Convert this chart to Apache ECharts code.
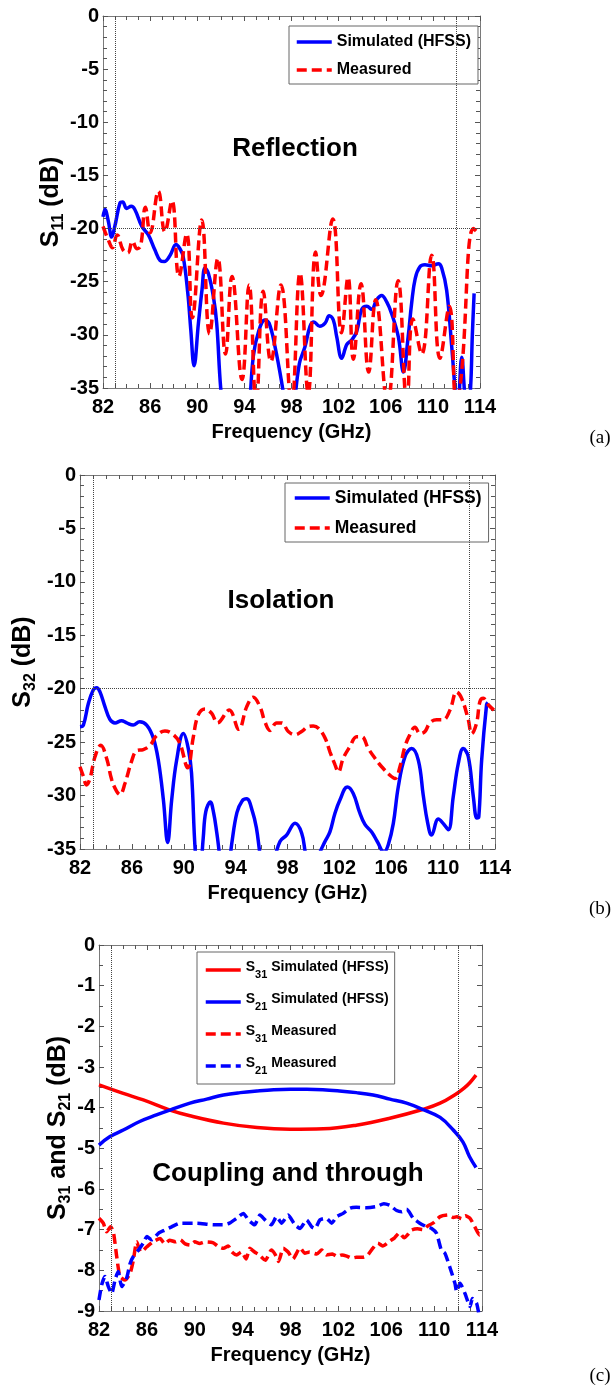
<!DOCTYPE html>
<html>
<head>
<meta charset="utf-8">
<script src="https://cdn.jsdelivr.net/npm/echarts@6/dist/echarts.min.js"></script>
<style>
  html, body { margin: 0; background: #fff; }
  #chart { width: 614px; height: 1389px; }
</style>
</head>
<body>
<div id="chart"></div>
<script>
// (a) reflection S11
const fS11Sim = [82.0,82.17,82.45,82.74,83.0,83.44,83.67,84.0,84.4,84.7,85.3,85.85,86.4,86.85,87.2,87.7,88.2,88.5,88.8,89.2,89.45,89.73,90.1,90.4,90.66,90.94,91.37,91.65,91.99,92.4,93.5,94.3,94.76,95.2,95.75,96.1,96.6,97.17,97.5,97.9,98.2,98.67,99.15,99.57,99.9,100.4,100.85,101.2,101.55,101.84,102.26,102.7,103.1,103.53,103.96,104.4,104.8,105.23,105.65,106.08,106.5,107.07,107.5,107.9,108.2,108.5,108.9,109.33,109.9,110.47,110.75,111.17,111.6,111.88,112.1,112.45,112.7,112.95,113.2,113.35,113.5];
const s11Sim = [-18.9,-18.2,-19.3,-20.8,-19.8,-17.6,-17.5,-18.1,-17.9,-18.2,-19.8,-20.6,-22.0,-23.0,-23.1,-22.5,-21.5,-21.85,-22.6,-26.1,-29.5,-32.9,-28.9,-25.8,-23.7,-24.2,-26.4,-28.9,-35.0,-39,-42,-38,-32.0,-29.7,-28.6,-28.9,-31.1,-34.5,-37,-40,-37,-32.7,-31.1,-29.2,-28.8,-29.2,-28.9,-28.2,-28.6,-30.2,-32.2,-30.9,-30.5,-29.7,-27.6,-27.3,-27.6,-26.7,-26.3,-26.9,-28.0,-30.2,-33.5,-30.2,-27.0,-24.7,-23.6,-23.4,-23.5,-23.3,-23.7,-25.8,-31.1,-35,-37,-32.1,-35.5,-38,-35,-30,-26.1];
const fS11Meas = [82.0,82.5,82.8,83.2,83.7,84.1,84.5,84.9,85.2,85.6,86.0,86.7,87.25,87.85,88.45,89.1,89.58,90.38,91.05,91.75,92.4,92.95,93.8,94.4,95.0,95.6,96.25,97.1,98.0,98.72,99.42,100.05,100.5,101.5,102.25,102.8,103.25,103.9,104.55,105.15,106.15,107.05,107.8,108.3,109.05,109.9,110.6,111.4,112.0,112.4,113.45,113.9];
const s11Meas = [-19.8,-21.2,-21.8,-20.6,-22.0,-22.3,-21.2,-21.9,-21.6,-18.0,-20.4,-16.5,-20.3,-17.4,-24.5,-20.5,-28.4,-19.2,-29.9,-22.8,-31.8,-24.5,-34.2,-25.3,-36.5,-25.9,-32.5,-25.3,-36.5,-24.2,-35.5,-22.2,-26.3,-19.1,-29.8,-24.6,-32.3,-25.2,-33.5,-26.7,-36.5,-24.9,-36.5,-28.5,-31.8,-22.5,-32.2,-27.3,-36.5,-34,-20.0,-20.5];

// (b) isolation S32
const fS32Sim = [82.0,82.26,82.64,83.03,83.29,83.54,83.93,84.3,84.7,85.2,85.6,86.1,86.6,87.14,87.65,88.04,88.43,88.76,89.07,89.45,89.97,90.35,90.6,90.9,91.2,91.5,91.7,92.05,92.3,92.55,92.9,93.3,93.7,94.1,94.5,94.85,95.3,95.6,95.95,96.5,97.0,97.42,97.93,98.58,99.09,99.4,99.9,100.45,100.89,101.27,101.66,102.05,102.61,103.07,103.54,103.97,104.49,104.92,105.44,105.77,106.16,106.54,107.06,107.57,108.09,108.47,108.8,109.11,109.63,110.0,110.4,110.78,111.17,111.55,111.94,112.33,112.6,112.75,112.97,113.35,113.45];
const s32Sim = [-23.55,-23.4,-21.4,-20.1,-19.9,-20.3,-21.7,-22.86,-23.2,-23.0,-23.2,-23.4,-23.1,-23.4,-24.6,-26.7,-30.4,-34.4,-30.4,-26.7,-24.2,-25.6,-27.9,-35.4,-38,-34,-31.5,-30.6,-31.6,-33.5,-36.5,-38,-34.5,-31.6,-30.5,-30.3,-31.5,-33,-36,-39,-36,-34.3,-33.7,-32.6,-33.5,-35.5,-38,-35.5,-34.3,-33.4,-31.65,-30.4,-29.2,-29.8,-31.5,-32.7,-33.4,-34.3,-35.3,-34.6,-32.6,-29.2,-26.35,-25.6,-26.7,-30.0,-32.5,-33.7,-32.2,-32.6,-33.2,-30.1,-27.0,-25.6,-26.35,-30.1,-32.1,-32.0,-26.7,-21.5,-21.3];
const fS32Meas = [82.0,82.26,82.5,82.77,83.16,83.6,84.05,84.44,84.83,85.08,85.47,86.0,86.37,86.88,87.4,87.9,88.55,89.2,89.7,90.3,90.74,91.12,91.64,92.15,92.6,93.5,94.25,94.85,95.36,95.88,96.26,96.65,97.16,97.55,98.06,98.58,99.09,99.6,99.99,100.38,100.89,101.27,101.66,101.92,102.3,102.82,103.33,103.72,104.23,104.74,105.26,105.9,106.29,106.67,107.06,107.44,107.83,108.22,108.6,108.98,109.5,110.0,110.53,111.04,111.43,111.94,112.2,112.58,112.84,113.1,113.48,113.92];
const s32Meas = [-27.3,-28.2,-29.0,-28.4,-26.35,-25.3,-26.5,-28.5,-29.6,-29.9,-28.85,-26.7,-25.8,-25.7,-25.3,-24.4,-23.95,-24.3,-25.1,-27.4,-24.5,-22.45,-21.9,-22.3,-23.2,-22.0,-23.8,-21.7,-20.8,-21.7,-23.1,-23.9,-23.2,-23.2,-24.0,-24.3,-24.0,-23.55,-23.5,-23.7,-24.6,-25.9,-27.1,-27.8,-26.5,-25.4,-24.5,-24.5,-25.6,-26.5,-27.3,-28.1,-28.4,-27.3,-25.4,-24.3,-23.6,-24.2,-24.0,-23.2,-22.9,-22.9,-22.0,-20.3,-20.9,-22.9,-24.2,-23.2,-21.2,-20.9,-21.5,-22.0];

// (c) coupling S31 and through S21
const fS31Sim = [82.0,84.03,85.7,87.93,89.6,92.4,95.2,97.96,100.75,103.5,106.3,109.1,110.5,111.9,112.5,113.0,113.5];
const s31Sim = [-3.44,-3.65,-3.81,-4.06,-4.2,-4.38,-4.49,-4.53,-4.52,-4.43,-4.26,-4.04,-3.89,-3.65,-3.52,-3.38,-3.2];
const fS21Sim = [82.0,82.92,84.03,85.4,86.8,87.93,89.6,91.0,92.4,93.8,95.2,96.6,98.0,99.35,100.7,102.1,103.5,104.9,106.3,107.7,109.1,110.5,111.6,112.4,112.95,113.5];
const s21Sim = [-4.92,-4.71,-4.55,-4.34,-4.18,-4.06,-3.89,-3.79,-3.69,-3.63,-3.59,-3.56,-3.55,-3.55,-3.56,-3.59,-3.63,-3.69,-3.79,-3.89,-4.05,-4.24,-4.55,-4.84,-5.2,-5.47];
const fS31Meas = [82.0,82.36,82.64,82.97,83.2,83.48,83.75,84.17,84.6,84.87,85.15,85.5,86.0,86.5,87.1,87.5,87.9,88.4,88.8,89.2,89.6,90.0,90.4,90.9,91.5,92.0,92.4,92.8,93.1,93.5,93.9,94.3,94.6,95.0,95.3,95.9,96.4,96.7,97.0,97.4,97.8,98.2,98.8,99.2,99.6,100.2,100.6,101.0,101.5,101.9,102.3,102.7,103.1,103.5,104.0,104.4,104.9,105.3,105.7,106.3,106.7,107.1,107.5,107.8,108.1,108.6,109.1,109.5,109.9,110.5,111.2,111.6,111.9,112.3,112.6,113.0,113.4,113.8,114.0];
const s31Meas = [-6.72,-6.84,-7.05,-6.93,-7.05,-7.66,-8.15,-8.24,-8.07,-7.75,-7.3,-7.55,-7.42,-7.3,-7.22,-7.35,-7.26,-7.3,-7.25,-7.35,-7.38,-7.3,-7.34,-7.3,-7.32,-7.42,-7.46,-7.4,-7.55,-7.62,-7.55,-7.72,-7.46,-7.55,-7.6,-7.75,-7.5,-7.6,-7.78,-7.46,-7.55,-7.72,-7.45,-7.58,-7.55,-7.6,-7.5,-7.62,-7.6,-7.66,-7.62,-7.65,-7.7,-7.68,-7.68,-7.64,-7.45,-7.33,-7.4,-7.28,-7.2,-7.08,-7.2,-7.12,-7.01,-6.98,-7.0,-6.9,-6.84,-6.68,-6.64,-6.7,-6.68,-6.73,-6.66,-6.72,-6.93,-7.13,-7.09];
const fS21Meas = [82.0,82.22,82.5,82.78,83.06,83.34,83.6,83.9,84.3,84.6,84.87,85.3,85.7,86.0,86.4,86.96,87.5,88.07,88.77,90.16,91.55,92.4,92.9,93.5,94.06,94.48,95.0,95.45,95.87,96.4,96.84,97.26,97.8,98.37,98.8,99.35,99.77,100.05,100.46,101.0,101.44,101.86,102.4,102.97,103.5,104.36,105.2,105.8,106.3,106.87,107.3,107.7,108.26,108.8,109.37,109.79,110.2,110.6,110.9,111.3,111.74,111.88,112.16,112.58,113.0,113.2,113.55,113.75];
const s21Meas = [-8.73,-8.36,-8.15,-8.4,-8.57,-8.24,-8.03,-8.4,-8.2,-7.83,-7.66,-7.5,-7.33,-7.17,-7.25,-7.09,-7.01,-6.93,-6.84,-6.84,-6.88,-6.88,-6.84,-6.72,-6.6,-6.76,-6.88,-6.64,-6.76,-6.88,-6.68,-6.84,-6.64,-6.88,-6.97,-6.76,-6.93,-6.97,-6.76,-6.72,-6.84,-6.68,-6.6,-6.47,-6.45,-6.46,-6.43,-6.36,-6.4,-6.53,-6.56,-6.5,-6.72,-6.84,-6.93,-6.97,-7.09,-7.5,-7.58,-7.91,-8.32,-8.52,-8.32,-8.57,-8.89,-8.69,-8.81,-9.1];

const bandEdges = [83, 112];
const isoLimit = -20;

const SANS = "'Liberation Sans', Arial, sans-serif";
const BLUE = '#0000ff', RED = '#ff0000';

function pairs(f, v) { return f.map((x, i) => [x, v[i]]); }

const grids = [
  { left: 103, top: 16, width: 377, height: 372, outerBoundsMode: 'none' },
  { left: 80, top: 475, width: 415, height: 374, outerBoundsMode: 'none' },
  { left: 99, top: 945, width: 383, height: 366, outerBoundsMode: 'none' }
];

const tickStyle = { color: '#555', width: 1 };
function xAxes(gi) {
  const base = {
    gridIndex: gi, type: 'value', min: 82, max: 114, interval: 4,
    axisLine: { show: true, onZero: false, lineStyle: { color: '#7a7a7a', width: 1 } },
    axisTick: { show: true, inside: true, length: 5, lineStyle: tickStyle },
    minorTick: { show: true, splitNumber: 4, length: 4, lineStyle: tickStyle },
    splitLine: { show: false }
  };
  return [
    Object.assign({}, base, {
      position: 'bottom',
      axisLabel: { color: '#000', fontFamily: SANS, fontWeight: 'bold', fontSize: 20, margin: 9, showMinLabel: true, showMaxLabel: true },
      name: 'Frequency (GHz)', nameLocation: 'middle', nameGap: 34, nameMoveOverlap: false,
      nameTextStyle: { color: '#000', fontFamily: SANS, fontWeight: 'bold', fontSize: 20 }
    }),
    Object.assign({}, base, { position: 'top', axisLabel: { show: false } })
  ];
}

const yRich = {
  s: { fontFamily: SANS, fontWeight: 'bold', fontSize: 25, lineHeight: 28, verticalAlign: 'top', color: '#000' },
  sub: { fontFamily: SANS, fontWeight: 'bold', fontSize: 16, lineHeight: 18, padding: [13, 0, 0, 0], verticalAlign: 'bottom', color: '#000' }
};
function yAxes(gi, ymin, step, minor, name, gap) {
  const base = {
    gridIndex: gi, type: 'value', min: ymin, max: 0, interval: step,
    axisLine: { show: true, onZero: false, lineStyle: { color: '#7a7a7a', width: 1 } },
    axisTick: { show: true, inside: true, length: 5, lineStyle: tickStyle },
    minorTick: { show: true, splitNumber: minor, length: 4, lineStyle: tickStyle },
    splitLine: { show: false }
  };
  return [
    Object.assign({}, base, {
      position: 'left',
      axisLabel: { color: '#000', fontFamily: SANS, fontWeight: 'bold', fontSize: 20, margin: 4, showMinLabel: true, showMaxLabel: true },
      name: name, nameLocation: 'middle', nameGap: gap, nameMoveOverlap: false,
      nameTextStyle: { rich: yRich }
    }),
    Object.assign({}, base, { position: 'right', axisLabel: { show: false } })
  ];
}

function refLines(gi, withLimit) {
  const data = bandEdges.map(x => ({ xAxis: x }));
  if (withLimit) data.push({ yAxis: isoLimit });
  return {
    type: 'line', name: 'ref' + gi, xAxisIndex: gi * 2, yAxisIndex: gi * 2, data: [], z: 1,
    markLine: { silent: true, symbol: 'none', animation: false, label: { show: false },
      lineStyle: { color: '#444', width: 1, type: 'dotted' }, data: data }
  };
}

function line(gi, name, f, v, color, dashed, smooth) {
  return {
    type: 'line', name: name, xAxisIndex: gi * 2, yAxisIndex: gi * 2,
    data: pairs(f, v), showSymbol: false, symbol: 'none', smooth: smooth, clip: true, z: 3,
    itemStyle: { color: color },
    lineStyle: { color: color, width: 3.5, type: dashed ? [10, 5] : 'solid' }
  };
}

const legendNames = {
  aSim: 'Simulated (HFSS)', aMeas: 'Measured',
  bSim: 'Simulated (HFSS)', bMeas: 'Measured',
  c31Sim: '{s|S}{sub|31}{s| Simulated (HFSS)}', c21Sim: '{s|S}{sub|21}{s| Simulated (HFSS)}',
  c31Meas: '{s|S}{sub|31}{s| Measured}', c21Meas: '{s|S}{sub|21}{s| Measured}'
};
const legendBase = {
  orient: 'vertical', itemWidth: 35, itemHeight: 14, backgroundColor: '#fff',
  borderColor: '#666', borderWidth: 1, borderRadius: 0, selectedMode: false,
  itemStyle: { opacity: 0 },
  lineStyle: { width: 3.5 },
  formatter: n => legendNames[n]
};

const option = {
  animation: false,
  backgroundColor: '#fff',
  grid: grids,
  xAxis: [].concat(xAxes(0), xAxes(1), xAxes(2)),
  yAxis: [].concat(
    yAxes(0, -35, 5, 5, '{s|S}{sub|11}{s| (dB)}', 36),
    yAxes(1, -35, 5, 5, '{s|S}{sub|32}{s| (dB)}', 41),
    yAxes(2, -9, 1, 2, '{s|S}{sub|31}{s| and S}{sub|21}{s| (dB)}', 25)
  ),
  legend: [
    Object.assign({}, legendBase, {
      data: ['aSim', 'aMeas'], left: 289, top: 26, padding: [6, 7, 4, 6], itemGap: 8,
      textStyle: { color: '#000', fontFamily: SANS, fontWeight: 'bold', fontSize: 16, lineHeight: 20 }
    }),
    Object.assign({}, legendBase, {
      data: ['bSim', 'bMeas'], left: 285, top: 483, padding: [4, 7, 3, 8], itemGap: 8,
      textStyle: { color: '#000', fontFamily: SANS, fontWeight: 'bold', fontSize: 17.5, lineHeight: 22 }
    }),
    Object.assign({}, legendBase, {
      data: ['c31Sim', 'c21Sim', 'c31Meas', 'c21Meas'], left: 197, top: 952, padding: [4, 6, 8, 7], itemGap: 8,
      textStyle: {
        color: '#000',
        rich: {
          s: { fontFamily: SANS, fontWeight: 'bold', fontSize: 14, lineHeight: 20, verticalAlign: 'top', color: '#000' },
          sub: { fontFamily: SANS, fontWeight: 'bold', fontSize: 11, lineHeight: 13, padding: [13, 0, 0, 0], verticalAlign: 'bottom', color: '#000' }
        }
      }
    })
  ],
  graphic: [
    { type: 'text', x: 295, y: 149, style: { text: 'Reflection', font: "bold 26px 'Liberation Sans'", fill: '#000', align: 'center', verticalAlign: 'middle' } },
    { type: 'text', x: 281, y: 601, style: { text: 'Isolation', font: "bold 26px 'Liberation Sans'", fill: '#000', align: 'center', verticalAlign: 'middle' } },
    { type: 'text', x: 288, y: 1174, style: { text: 'Coupling and through', font: "bold 26px 'Liberation Sans'", fill: '#000', align: 'center', verticalAlign: 'middle' } },
    { type: 'text', x: 600, y: 438, style: { text: '(a)', font: "19px 'Liberation Serif'", fill: '#000', align: 'center', verticalAlign: 'middle' } },
    { type: 'text', x: 600, y: 909, style: { text: '(b)', font: "19px 'Liberation Serif'", fill: '#000', align: 'center', verticalAlign: 'middle' } },
    { type: 'text', x: 600, y: 1376, style: { text: '(c)', font: "19px 'Liberation Serif'", fill: '#000', align: 'center', verticalAlign: 'middle' } }
  ],
  series: [
    refLines(0, true),
    line(0, 'aSim', fS11Sim, s11Sim, BLUE, false, 0.4),
    line(0, 'aMeas', fS11Meas, s11Meas, RED, true, 0.45),
    refLines(1, true),
    line(1, 'bSim', fS32Sim, s32Sim, BLUE, false, 0.4),
    line(1, 'bMeas', fS32Meas, s32Meas, RED, true, 0.4),
    refLines(2, false),
    line(2, 'c31Sim', fS31Sim, s31Sim, RED, false, 0.4),
    line(2, 'c21Sim', fS21Sim, s21Sim, BLUE, false, 0.4),
    line(2, 'c31Meas', fS31Meas, s31Meas, RED, true, 0.2),
    line(2, 'c21Meas', fS21Meas, s21Meas, BLUE, true, 0.2)
  ]
};

const chart = echarts.init(document.getElementById('chart'), null, { renderer: 'canvas' });
chart.setOption(option);
</script>
</body>
</html>
